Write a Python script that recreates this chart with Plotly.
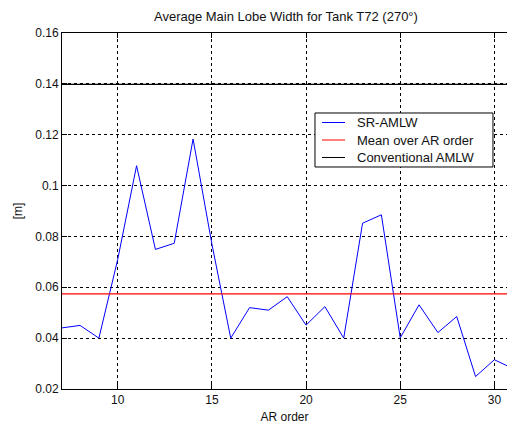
import plotly.graph_objects as go

# AR model order and the super-resolution average main lobe width per order
ar_order = list(range(7, 32))
sr_amlw = [0.044, 0.045, 0.040, 0.071, 0.1078, 0.0749, 0.0773, 0.1183, 0.077,
           0.040, 0.052, 0.051, 0.0563, 0.0451, 0.0524, 0.040, 0.0852, 0.0885,
           0.0401, 0.0531, 0.0422, 0.0485, 0.0249, 0.0315, 0.028]

# Reference levels
mean_amlw = 0.0574          # mean over AR order
conventional_amlw = 0.1398  # conventional processing

x_ticks = [10, 15, 20, 25, 30]
y_ticks = [0.02, 0.04, 0.06, 0.08, 0.1, 0.12, 0.14, 0.16]
y_tick_text = ["0.02", "0.04", "0.06", "0.08", "0.1", "0.12", "0.14", "0.16"]

series_names = ["SR-AMLW", "Mean over AR order", "Conventional AMLW"]
series_colors = ["#0000ff", "#ff0000", "#000000"]

FONT = "Liberation Sans, Arial, sans-serif"
TEXT = "#111"

fig = go.Figure()
fig.add_trace(go.Scatter(x=ar_order, y=sr_amlw, mode="lines", name=series_names[0],
                         line=dict(color=series_colors[0], width=1)))
fig.add_trace(go.Scatter(x=[ar_order[0], ar_order[-1]], y=[mean_amlw, mean_amlw],
                         mode="lines", name=series_names[1],
                         line=dict(color=series_colors[1], width=1.2)))
fig.add_trace(go.Scatter(x=[ar_order[0], ar_order[-1]],
                         y=[conventional_amlw, conventional_amlw],
                         mode="lines", name=series_names[2],
                         line=dict(color=series_colors[2], width=1.2)))

axis_common = dict(
    showline=True, linecolor="black", linewidth=1,
    ticks="inside", ticklen=5, tickcolor="black", tickwidth=1,
    showgrid=True, gridcolor="black", gridwidth=1, griddash="3px,3px",
    zeroline=False, tickfont=dict(family=FONT, size=12, color=TEXT),
)

fig.update_xaxes(range=[7.04, 30.67], tickvals=x_ticks, mirror="ticks",
                 title=dict(text="AR order", font=dict(family=FONT, size=12, color=TEXT),
                            standoff=6),
                 **axis_common)
fig.update_yaxes(range=[0.02, 0.16], tickvals=y_ticks, ticktext=y_tick_text,
                 title=dict(text="[m]", font=dict(family=FONT, size=12, color=TEXT),
                            standoff=10),
                 **axis_common)

# Boxed legend in the upper right of the axes
box_x0, box_x1, box_y0, box_y1 = 0.5685, 0.9685, 0.6236, 0.7753
row_y = [0.7486, 0.6994, 0.6503]
shapes = [dict(type="rect", xref="paper", yref="paper",
               x0=box_x0, x1=box_x1, y0=box_y0, y1=box_y1,
               line=dict(color="black", width=1), fillcolor="white", layer="above")]
annotations = []
for name, color, yy in zip(series_names, series_colors, row_y):
    shapes.append(dict(type="line", xref="paper", yref="paper",
                       x0=0.5843, x1=0.6360, y0=yy, y1=yy,
                       line=dict(color=color, width=1), layer="above"))
    annotations.append(dict(xref="paper", yref="paper", x=0.6584, y=yy,
                            xanchor="left", yanchor="middle", showarrow=False,
                            text=name, font=dict(family=FONT, size=13, color=TEXT)))

fig.update_layout(
    width=507, height=425,
    margin=dict(l=62, r=0, t=33, b=36),
    paper_bgcolor="white", plot_bgcolor="white",
    title=dict(text="Average Main Lobe Width for Tank T72 (270°)",
               font=dict(family=FONT, size=13, color=TEXT),
               x=0.564, xanchor="center", y=0.962, yanchor="middle"),
    shapes=shapes, annotations=annotations,
    showlegend=False,
)

fig.write_html("out.html")
